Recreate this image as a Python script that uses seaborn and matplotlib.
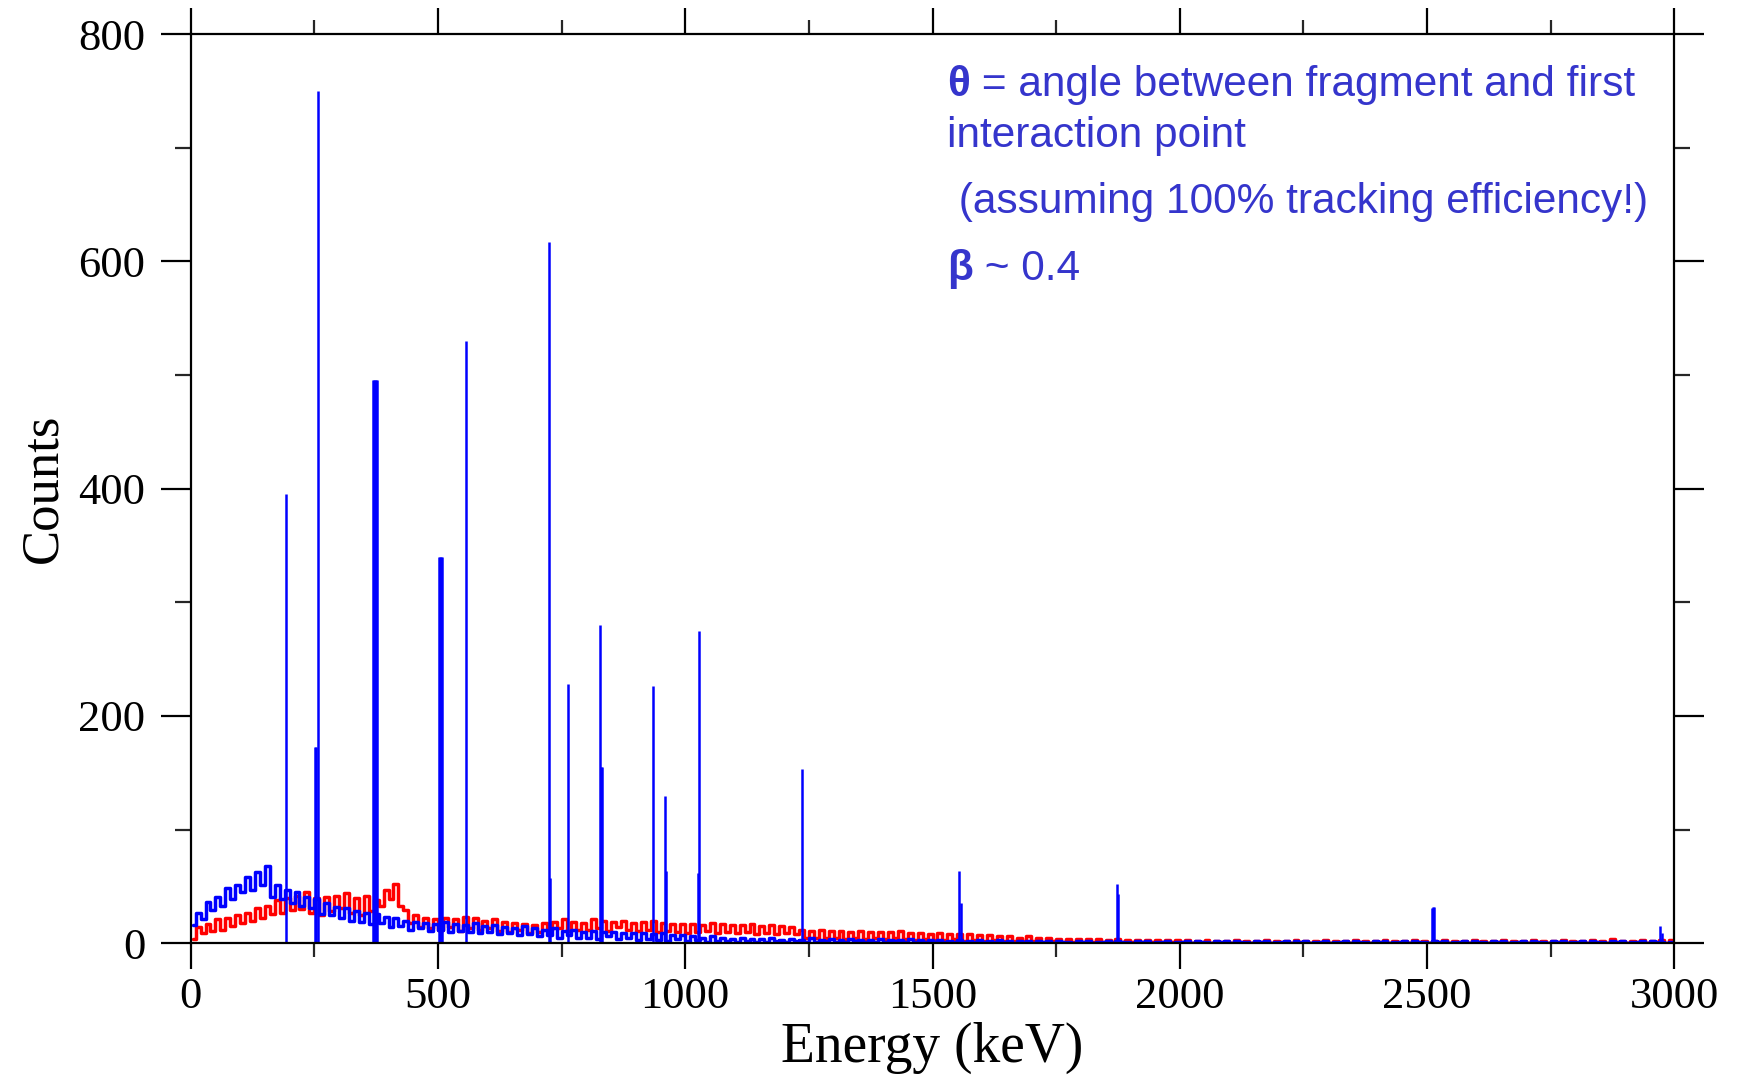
import numpy as np
import pandas as pd
import matplotlib
matplotlib.use("Agg")
import matplotlib.pyplot as plt
import seaborn as sns

# ---------------- data ----------------
bin_width_kev = 10
# blue spectrum continuum, 10 keV bins starting at 0 keV (one row = 100 keV)
blue_counts = [
    16, 27, 21, 36, 29, 41, 33, 49, 39, 51,
    45, 58, 47, 63, 51, 68, 41, 51, 39, 47,
    35, 45, 33, 41, 31, 39, 26, 35, 25, 32,
    22, 31, 20, 28, 19, 27, 17, 26, 18, 23,
    14, 22, 15, 20, 12, 19, 13, 18, 11, 17,
    12, 19, 10, 17, 11, 16, 10, 18, 9, 15,
    10, 16, 8, 14, 9, 13, 7, 15, 8, 13,
    6, 12, 7, 13, 5, 11, 7, 12, 5, 10,
    5, 11, 4, 10, 6, 10, 4, 9, 5, 9,
    3, 9, 4, 8, 3, 9, 2, 7, 4, 7,
    2, 6, 3, 5, 1, 6, 2, 5, 2, 4,
    1, 5, 2, 4, 1, 4, 1, 5, 2, 3,
    1, 4, 2, 3, 1, 5, 1, 3, 2, 4,
    1, 3, 1, 4, 2, 3, 1, 3, 1, 4,
    1, 3, 2, 3, 1, 4, 1, 3, 1, 3,
    1, 3, 1, 2, 1, 3, 1, 2, 1, 3,
    1, 2, 1, 3, 1, 2, 0, 2, 1, 2,
    0, 2, 1, 2, 0, 2, 1, 1, 0, 2,
    1, 2, 0, 1, 1, 2, 0, 2, 1, 1,
    0, 2, 1, 2, 0, 1, 1, 2, 0, 1,
    1, 2, 0, 2, 1, 1, 0, 2, 1, 2,
    0, 2, 1, 1, 0, 2, 1, 2, 0, 1,
    1, 2, 0, 2, 1, 2, 0, 1, 1, 2,
    0, 1, 1, 2, 0, 2, 1, 1, 0, 2,
    1, 2, 0, 1, 1, 2, 0, 2, 1, 1,
    0, 2, 1, 2, 0, 1, 1, 2, 0, 2,
    1, 1, 0, 2, 1, 2, 0, 1, 1, 2,
    0, 2, 1, 1, 0, 2, 1, 2, 0, 1,
    1, 2, 0, 2, 1, 1, 0, 2, 1, 2,
    0, 1, 1, 2, 0, 2, 1, 1, 0, 1,
]
# red spectrum, 10 keV bins starting at 0 keV
red_counts = [
    4, 14, 9, 17, 11, 21, 12, 22, 15, 25,
    18, 27, 20, 31, 22, 33, 26, 38, 27, 40,
    29, 42, 30, 45, 27, 40, 25, 41, 28, 42,
    31, 44, 27, 40, 25, 42, 28, 38, 33, 47,
    39, 52, 33, 29, 18, 25, 14, 22, 13, 21,
    12, 22, 14, 21, 11, 23, 13, 22, 12, 20,
    13, 21, 11, 19, 10, 18, 12, 17, 9, 16,
    10, 18, 12, 19, 13, 21, 11, 19, 12, 18,
    12, 21, 13, 20, 11, 19, 14, 20, 12, 18,
    11, 19, 12, 20, 10, 18, 11, 17, 10, 17,
    9, 17, 10, 16, 11, 18, 9, 17, 10, 16,
    9, 16, 10, 17, 8, 15, 9, 16, 8, 15,
    9, 14, 8, 12, 5, 11, 5, 12, 5, 11,
    5, 11, 4, 10, 5, 11, 4, 10, 5, 10,
    4, 10, 5, 11, 4, 9, 3, 9, 4, 8,
    3, 9, 3, 8, 4, 8, 2, 8, 3, 7,
    2, 7, 3, 6, 2, 6, 2, 5, 2, 6,
    2, 5, 1, 5, 2, 4, 1, 4, 1, 4,
    1, 4, 1, 4, 1, 3, 1, 4, 1, 3,
    1, 3, 1, 3, 1, 3, 1, 3, 1, 3,
    1, 3, 0, 2, 1, 3, 0, 2, 1, 2,
    0, 3, 1, 2, 0, 2, 1, 3, 0, 2,
    1, 2, 0, 3, 1, 2, 0, 2, 1, 3,
    0, 2, 1, 2, 0, 3, 1, 2, 0, 2,
    1, 3, 0, 2, 1, 2, 0, 3, 1, 2,
    0, 2, 1, 3, 0, 2, 1, 2, 0, 3,
    1, 2, 0, 2, 1, 3, 0, 2, 1, 2,
    0, 3, 1, 2, 0, 2, 1, 3, 0, 2,
    1, 2, 0, 3, 1, 2, 0, 4, 1, 2,
    0, 2, 1, 3, 0, 2, 1, 3, 0, 3,
]
# sharp photopeaks of the blue (Doppler-corrected) spectrum
peak_energy = [193, 252, 254, 258, 368, 370, 372, 374, 376, 503, 505, 507, 509,
               557, 724, 727, 763, 827, 830, 832, 935, 959, 962, 1025, 1028,
               1236, 1554, 1557, 1873, 1876, 2511, 2513, 2515, 2972, 2975]
peak_counts = [395, 173, 173, 750, 496, 496, 496, 496, 496, 340, 340, 340, 340,
               530, 617, 57, 228, 280, 155, 155, 226, 130, 64, 62, 275,
               153, 64, 35, 52, 43, 31, 32, 32, 15, 9]

x_ticks = [0, 500, 1000, 1500, 2000, 2500, 3000]
y_ticks = [0, 200, 400, 600, 800]

energy_bins = np.arange(len(blue_counts)) * bin_width_kev + bin_width_kev / 2
df = pd.DataFrame({"Energy": energy_bins, "blue": blue_counts, "red": red_counts})

# ---------------- style ----------------
sns.set_style("ticks")
plt.rcParams["font.family"] = ["Liberation Serif", "DejaVu Serif"]

fig = plt.figure(figsize=(17.43, 10.80), dpi=100)
ax = fig.add_axes([0.1094, 0.1266, 0.9606 - 0.1094, 0.9685 - 0.1266])

sns.lineplot(data=df, x="Energy", y="red", ax=ax, color="#ff0000", lw=2.5,
             drawstyle="steps-mid", estimator=None)
sns.lineplot(data=df, x="Energy", y="blue", ax=ax, color="#0000ff", lw=2.5,
             drawstyle="steps-mid", estimator=None)
ax.vlines(peak_energy, 0, peak_counts, color="#0000ff", lw=1.8)

ax.set_xlim(0, 3000)
ax.set_ylim(0, 800)
ax.set_xticks(x_ticks)
ax.set_yticks(y_ticks)
ax.set_xticks(np.arange(250, 3000, 500), minor=True)
ax.set_yticks(np.arange(100, 800, 200), minor=True)

for s in ax.spines.values():
    s.set_visible(True)
    s.set_linewidth(1.6)
    s.set_color("black")

ax.tick_params(axis="x", which="major", direction="out", length=19, width=1.6,
               top=True, bottom=True, labelsize=32, pad=5, colors="black")
ax.tick_params(axis="x", which="minor", direction="out", length=10, width=1.6,
               top=True, bottom=True)
ax.tick_params(axis="y", which="major", direction="out", length=21.5, width=1.6,
               left=True, right=True, labelsize=32, pad=11, colors="black")
ax.tick_params(axis="y", which="minor", direction="out", length=11.5, width=1.6,
               left=True, right=True)

ax.set_xlabel("Energy (keV)", fontsize=40, color="black")
ax.set_ylabel("Counts", fontsize=38, color="black")
ax.xaxis.set_label_coords(0.5, -0.086)
ax.yaxis.set_label_coords(-0.0834, 0.5)

# ---------------- annotation ----------------
txt_color = "#3535cc"
sans = ["Liberation Sans", "DejaVu Sans"]
fs = 30.5
t1 = fig.text(0.5433, 0.9115, "θ", fontsize=fs, fontweight="bold", color=txt_color,
              family=sans, va="baseline")
ax.annotate(" = angle between fragment and first", xy=(1, 0), xycoords=t1,
            va="bottom", ha="left", fontsize=fs, color=txt_color, family=sans)
fig.text(0.5433, 0.8642, "interaction point", fontsize=fs, color=txt_color,
         family=sans, va="baseline")
fig.text(0.5433, 0.8028, " (assuming 100% tracking efficiency!)", fontsize=fs,
         color=txt_color, family=sans, va="baseline")
t4 = fig.text(0.5433, 0.7407, "β", fontsize=fs, fontweight="bold", color=txt_color,
              family=sans, va="baseline")
ax.annotate(" ~ 0.4", xy=(1, 0), xycoords=t4, va="bottom", ha="left",
            fontsize=fs, color=txt_color, family=sans)

fig.savefig("out.png", dpi=100, facecolor="white")
